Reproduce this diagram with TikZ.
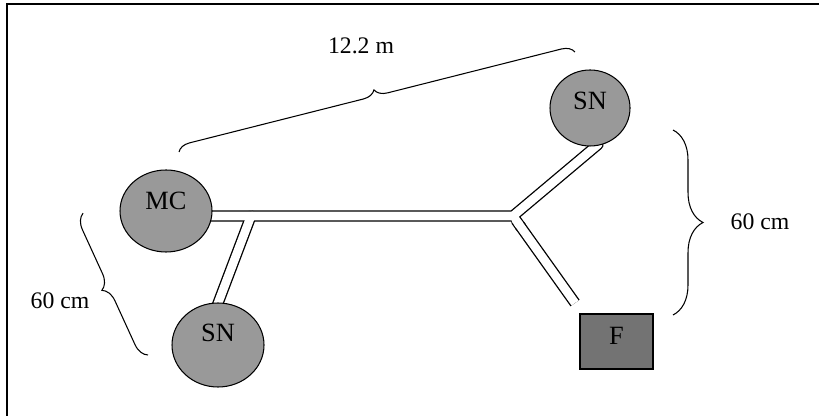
\documentclass[tikz,border=0pt]{standalone}
\usepackage{fontspec}
\setmainfont{Liberation Serif}
\usepackage{tikz}
\usetikzlibrary{shapes.geometric, arrows.meta, positioning, decorations.pathreplacing, backgrounds}

\begin{document}
\begin{tikzpicture}[font=\fontsize{13.5}{16}\selectfont,
  hub/.style={ellipse, draw, fill=black!40, line width=0.6pt, minimum width=1.84cm, minimum height=1.64cm, inner sep=0pt},
  tag/.style={font=\fontsize{15}{18}\selectfont},
  curly/.style={decorate, decoration={brace, amplitude=#1}, line width=0.6pt}]
\useasboundingbox (0,0) rectangle (16.38,8.32);
% frame
\draw[line width=0.8pt] (0.14,0) -- (0.14,8.24) -- (16.38,8.24);
% stations
\node[hub, label={[tag,yshift=2mm]center:MC}] (MC) at (3.32,4.10) {};
\node[hub, minimum height=1.68cm, label={[tag,yshift=2.4mm]center:SN}] (SNl) at (4.36,1.42) {};
\node[hub, minimum width=1.60cm, minimum height=1.52cm, label={[tag,yshift=1.4mm]center:SN}] (SNu) at (11.80,6.16) {};
\node[draw, fill=black!55, line width=0.6pt, minimum width=1.46cm, minimum height=1.10cm, label={[tag,yshift=1.1mm]center:F}] (F) at (12.33,1.49) {};
% pipe points
\coordinate (P) at (3.40,4.00);
\coordinate (J) at (10.26,4.00);
\coordinate (K) at (5.02,4.00);
\coordinate (U) at (11.96,5.43);
\coordinate (L) at (4.12,1.62);
\coordinate (E) at (11.50,2.26);
\begin{scope}[on background layer]
\foreach \w/\c in {6.4pt/black, 4.9pt/white}{
  \draw[line width=\w, \c, line cap=round, line join=round] (P) -- (J) -- (U) -- (SNu.center);
  \draw[line width=\w, \c, line cap=round] (K) -- (L);
  \draw[line width=\w, \c, {Round Cap[]}-] (J) -- (E);
}
\end{scope}
% dimensions
\draw[curly=2.5mm] (3.58,5.28) -- (11.50,7.28);
\node (len) at (7.22,7.40) {12.2 m};
\draw[curly=3mm] (2.96,1.22) -- (1.66,4.06);
\node (hl) at (1.20,2.30) {60 cm};
\draw[curly=6mm] (13.46,5.72) -- (13.46,2.02);
\node (hr) at (15.20,3.88) {60 cm};
\end{tikzpicture}
\end{document}
